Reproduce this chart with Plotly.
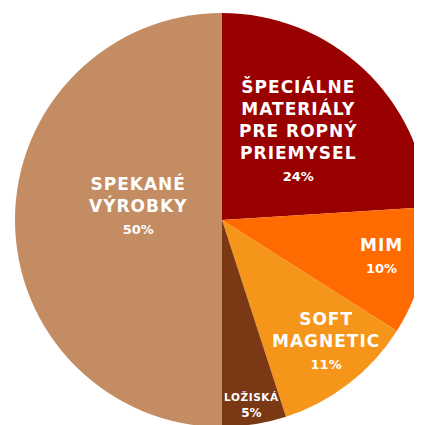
import math
import plotly.graph_objects as go

categories = ["ŠPECIÁLNE<br>MATERIÁLY<br>PRE ROPNÝ<br>PRIEMYSEL", "MIM", "SOFT<br>MAGNETIC", "LOŽISKÁ", "SPEKANÉ<br>VÝROBKY"]
shares = [24, 10, 11, 5, 50]
colors = ["#990000", "#FF6B00", "#F5951A", "#7A3814", "#C48C62"]

# label placement style: radial fraction, angle nudge (deg), font sizes
label_r = [0.57, 0.79, 0.77, 0.905, 0.41]
label_nudge = [-3, -2, -3, 0, 10]
base_size = [17, 17, 17, 12, 17]
name_size = [17, 17, 17, 10.5, 17]
pct_size = [13, 13, 13, 12, 13]
spacing = [1, 1, 1, 0.6, 1]

W, H = 422, 425
# page has an 8px body margin; geometry in figure coordinates
cx, cy, R = 214, 212, 207
dom_x = [(cx - R) / W, (cx + R) / W]
dom_y = [1 - (cy + R) / H, 1 - (cy - R) / H]

fig = go.Figure(go.Pie(
    labels=[c.replace("<br>", " ") for c in categories],
    values=shares,
    marker=dict(colors=colors, line=dict(width=0)),
    sort=False,
    direction="clockwise",
    rotation=0,
    textinfo="none",
    hoverinfo="label+percent",
    showlegend=False,
    domain=dict(x=dom_x, y=dom_y),
))

total = sum(shares)
cum = 0
annotations = []
for i, (name, v) in enumerate(zip(categories, shares)):
    mid = (cum + v / 2) / total * 360 + label_nudge[i]
    cum += v
    r = label_r[i] * R
    px = cx + r * math.sin(math.radians(mid))
    py = cy - r * math.cos(math.radians(mid))
    lines = name.split("<br>")
    styled = "<br>".join(
        f"<span style='letter-spacing:{spacing[i]}px;font-size:{name_size[i]}px'><b>{ln}</b></span>"
        for ln in lines)
    text = f"{styled}<br><span style='font-size:{pct_size[i]}px'><b>{v}%</b></span>"
    annotations.append(dict(
        x=px / W, y=1 - py / H, xref="paper", yref="paper",
        text=text, showarrow=False, xanchor="center", yanchor="middle",
        font=dict(family="DejaVu Sans", size=base_size[i], color="white"),
        align="center",
    ))

fig.update_layout(
    width=W, height=H,
    margin=dict(l=0, r=0, t=0, b=0),
    paper_bgcolor="white",
    annotations=annotations,
)
fig.write_html("out.html")
